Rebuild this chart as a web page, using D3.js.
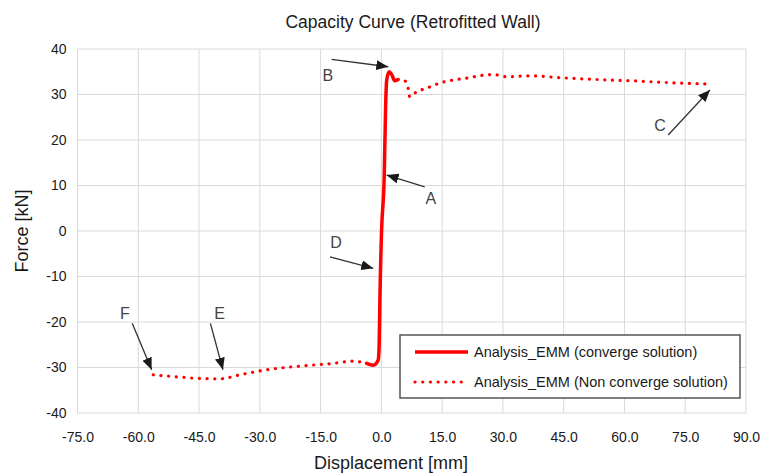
<!DOCTYPE html>
<html>
<head>
<meta charset="utf-8">
<script src="https://cdn.jsdelivr.net/npm/d3@7"></script>
<style>
  html, body { margin: 0; padding: 0; background: #fff; }
  svg { display: block; }
  text { font-family: "Liberation Sans", Arial, sans-serif; fill: #1a1a1a; }
</style>
</head>
<body>
<svg id="chart" width="764" height="475"></svg>
<script>
// Converged part of the EMM analysis: [displacement mm, force kN]
const convergeDisp  = [-3.65, -2.0, -0.8, -0.55, -0.37, 0.05, 0.7, 1.05, 1.3, 1.9, 2.6, 3.3, 4.1];
const convergeForce = [-29.1, -29.5, -28.4, -25.4, -15.2, 0.0, 11.9, 27.3, 33.0, 35.0, 34.3, 33.0, 33.3];

// Non-converged branch, positive side
const posDisp  = [4.1, 5.8, 6.6, 7.0, 8.7, 11.2, 14.4, 21.0, 27.6, 30.9, 36.7, 44.1, 53.1, 62.1, 71.2, 80.7];
const posForce = [33.3, 33.0, 31.4, 29.5, 30.6, 31.4, 32.5, 33.6, 34.4, 33.9, 34.1, 33.7, 33.3, 33.0, 32.6, 32.3];

// Non-converged branch, negative side
const negDisp  = [-56.3, -51.4, -44.8, -39.9, -34.9, -28.3, -20.1, -11.9, -7.0, -3.65];
const negForce = [-31.6, -32.0, -32.4, -32.5, -31.6, -30.5, -29.7, -29.1, -28.6, -29.1];

// Axis ticks
const xTicks = [-75, -60, -45, -30, -15, 0, 15, 30, 45, 60, 75, 90];
const yTicks = [-40, -30, -20, -10, 0, 10, 20, 30, 40];

// Point labels with arrows (data units): label position, arrow start, arrow tip
const markLabels = ["B", "A", "D", "F", "E", "C"];
const labelPos   = [[-13.2, 34.3], [12.2, 7.2], [-11.2, -2.4], [-63.3, -18.1], [-39.9, -18.1], [68.8, 23.3]];
const arrowFrom  = [[-12.3, 37.7], [10.7, 9.7], [-12.7, -5.7], [-61.5, -20.3], [-42.2, -20.3], [70.8, 21.1]];
const arrowTo    = [[1.7, 36.1], [1.3, 12.3], [-2.0, -8.2], [-56.7, -30.5], [-39.1, -30.5], [81.1, 31.0]];

const seriesNames = ["Analysis_EMM (converge solution)", "Analysis_EMM (Non converge solution)"];

const svg = d3.select("#chart");
const plot = { left: 77.5, right: 746, top: 49, bottom: 413 };

const x = d3.scaleLinear().domain([-75, 90]).range([plot.left, plot.right]);
const y = d3.scaleLinear().domain([-40, 40]).range([plot.bottom, plot.top]);

// Gridlines
const grid = svg.append("g");
grid.selectAll("line.v").data(xTicks).join("line")
  .attr("x1", d => x(d)).attr("x2", d => x(d))
  .attr("y1", plot.top).attr("y2", plot.bottom)
  .attr("stroke", "#d9d9d9").attr("stroke-width", 1);
grid.selectAll("line.h").data(yTicks).join("line")
  .attr("y1", d => y(d)).attr("y2", d => y(d))
  .attr("x1", plot.left).attr("x2", plot.right)
  .attr("stroke", "#d9d9d9").attr("stroke-width", 1);

// Axes (labels only, plain hyphen for negatives)
const xAxis = d3.axisBottom(x).tickValues(xTicks).tickSize(0).tickPadding(0)
  .tickFormat(d => d.toFixed(1));
const gx = svg.append("g").attr("transform", `translate(0,${plot.bottom + 24})`).call(xAxis);
gx.select(".domain").remove();
gx.selectAll("text").attr("font-size", 14).attr("dy", "0.35em")
  .attr("font-family", "Liberation Sans, Arial, sans-serif").attr("fill", "#1a1a1a");

const yAxis = d3.axisLeft(y).tickValues(yTicks).tickSize(0).tickPadding(0)
  .tickFormat(d => String(d));
const gy = svg.append("g").attr("transform", `translate(${plot.left - 11},0)`).call(yAxis);
gy.select(".domain").remove();
gy.selectAll("text").attr("font-size", 14)
  .attr("font-family", "Liberation Sans, Arial, sans-serif").attr("fill", "#1a1a1a");

// Curves
const line = d3.line().x(d => x(d[0])).y(d => y(d[1])).curve(d3.curveMonotoneX);
const zipPts = (a, b) => a.map((v, i) => [v, b[i]]);

const dotted = { stroke: "#ff0000", width: 3.2, dash: "0.1 7.6" };

[zipPts(negDisp, negForce), zipPts(posDisp, posForce)].forEach(pts => {
  svg.append("path").attr("d", line(pts))
    .attr("fill", "none").attr("stroke", dotted.stroke)
    .attr("stroke-width", dotted.width).attr("stroke-linecap", "round")
    .attr("stroke-dasharray", dotted.dash);
});

svg.append("path").attr("d", line(zipPts(convergeDisp, convergeForce)))
  .attr("fill", "none").attr("stroke", "#ff0000")
  .attr("stroke-width", 3.5).attr("stroke-linejoin", "round").attr("stroke-linecap", "round");

// Arrow annotations
const defs = svg.append("defs");
defs.append("marker").attr("id", "head")
  .attr("viewBox", "0 0 12 10").attr("refX", 12).attr("refY", 5)
  .attr("markerWidth", 12).attr("markerHeight", 10).attr("markerUnits", "userSpaceOnUse")
  .attr("orient", "auto")
  .append("path").attr("d", "M0,0 L12,5 L0,10 Z").attr("fill", "#1a1a1a");

const ann = svg.append("g");
markLabels.forEach((lab, i) => {
  ann.append("line")
    .attr("x1", x(arrowFrom[i][0])).attr("y1", y(arrowFrom[i][1]))
    .attr("x2", x(arrowTo[i][0])).attr("y2", y(arrowTo[i][1]))
    .attr("stroke", "#333").attr("stroke-width", 1.3)
    .attr("marker-end", "url(#head)");
  ann.append("text")
    .attr("x", x(labelPos[i][0])).attr("y", y(labelPos[i][1]))
    .attr("text-anchor", "middle").attr("dy", "0.35em")
    .attr("font-size", 16).style("fill", "#444")
    .text(lab);
});

// Legend
const lg = svg.append("g");
lg.append("rect").attr("x", 400).attr("y", 335).attr("width", 340).attr("height", 63)
  .attr("fill", "#fff").attr("stroke", "#555").attr("stroke-width", 1.5);
const rowY = [352, 382];
lg.append("line").attr("x1", 415).attr("x2", 468).attr("y1", rowY[0]).attr("y2", rowY[0])
  .attr("stroke", "#ff0000").attr("stroke-width", 3.5);
lg.append("line").attr("x1", 415).attr("x2", 468).attr("y1", rowY[1]).attr("y2", rowY[1])
  .attr("stroke", dotted.stroke).attr("stroke-width", dotted.width)
  .attr("stroke-linecap", "round").attr("stroke-dasharray", dotted.dash);
seriesNames.forEach((n, i) => {
  lg.append("text").attr("x", 474).attr("y", rowY[i]).attr("dy", "0.35em")
    .attr("font-size", 14.5).text(n);
});

// Titles
svg.append("text").attr("x", 413).attr("y", 22).attr("dy", "0.35em")
  .attr("text-anchor", "middle").attr("font-size", 17.5).text("Capacity Curve (Retrofitted Wall)");
svg.append("text").attr("x", 391).attr("y", 463).attr("dy", "0.35em")
  .attr("text-anchor", "middle").attr("font-size", 18).text("Displacement [mm]");
svg.append("text").attr("transform", "translate(22,231) rotate(-90)").attr("dy", "0.35em")
  .attr("text-anchor", "middle").attr("font-size", 18).text("Force [kN]");
</script>
</body>
</html>
